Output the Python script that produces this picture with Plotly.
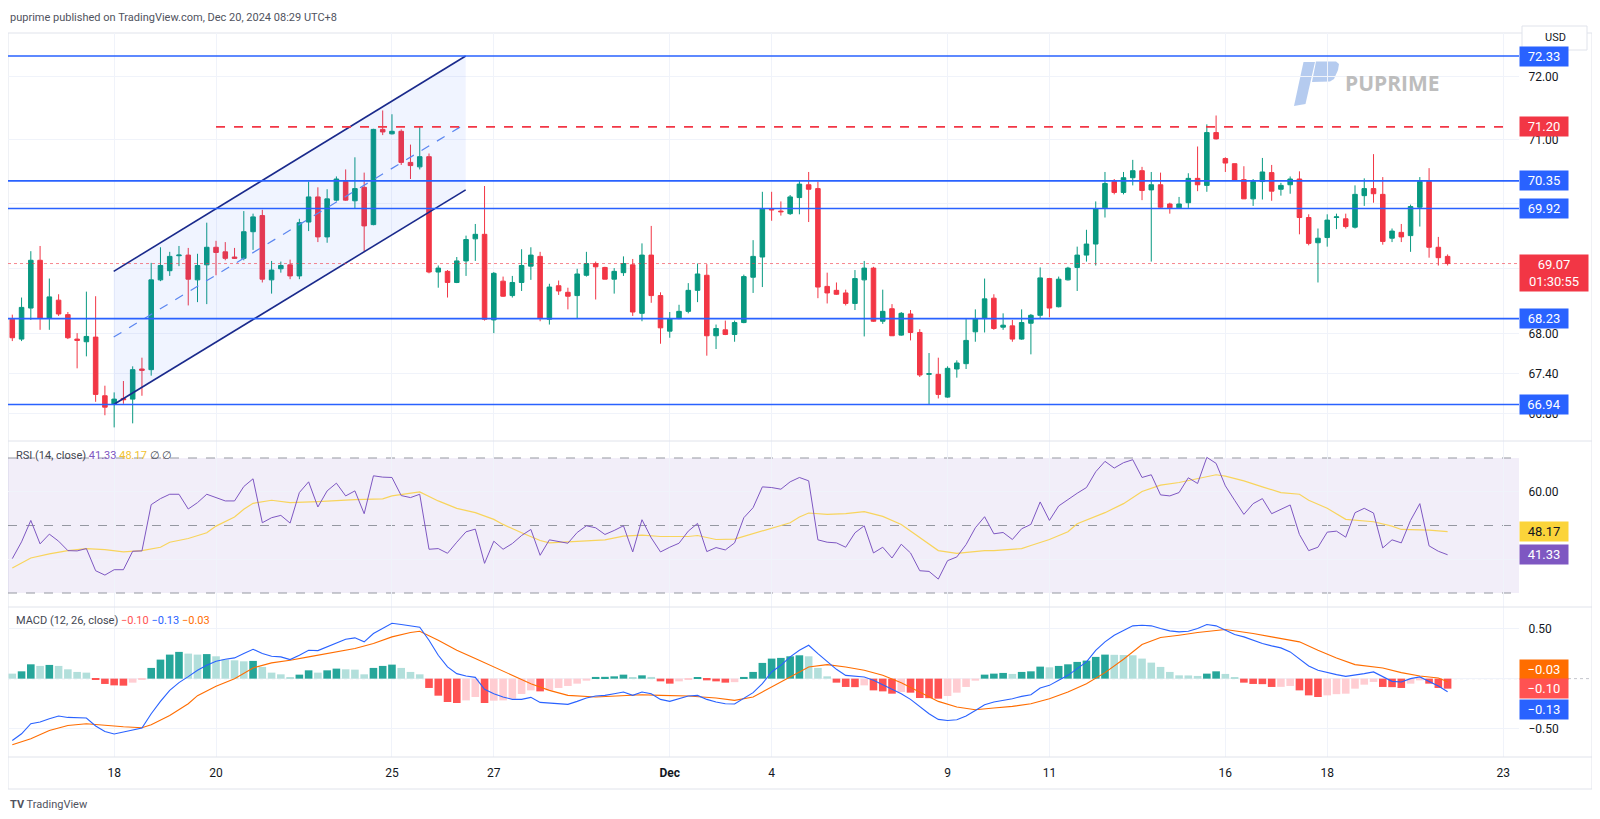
import numpy as np
import plotly.graph_objects as go

# ---------------- DATA ----------------
open_ = [68.22,67.92,68.39,69.12,68.24,68.51,68.29,67.92,67.88,67.95,67.07,66.94,67.03,67.02,67.47,67.46,68.82,68.96,69.19,69.20,
         68.82,69.05,69.32,69.25,69.17,69.15,69.56,69.81,68.82,68.99,69.05,68.88,69.71,70.10,69.48,70.05,70.34,70.04,70.25,69.67,
         71.16,71.09,71.13,70.64,70.57,70.73,68.94,68.95,68.78,69.11,69.45,69.52,68.21,68.80,68.58,68.78,69.03,69.18,68.22,68.73,
         68.63,68.58,68.89,69.07,69.01,68.83,68.93,69.05,68.31,69.20,68.58,68.04,68.23,68.34,68.66,68.89,67.97,68.06,67.99,68.17,
         68.86,69.17,69.91,69.88,69.84,70.09,70.29,70.23,68.72,68.66,68.62,68.46,68.82,69.00,68.19,68.38,67.98,68.30,68.02,67.39,
         67.39,67.05,67.47,67.55,68.03,68.23,68.54,68.10,68.12,67.92,68.16,68.28,68.84,68.41,68.82,69.01,69.20,69.37,69.93,70.34,
         70.17,70.40,70.51,70.21,70.29,69.99,69.93,70.01,70.39,70.28,71.11,70.70,70.62,70.37,70.07,70.34,70.48,70.22,70.29,70.38,
         69.78,69.39,69.47,69.78,69.76,69.63,70.12,70.23,70.14,69.46,69.55,69.50,69.94,70.34,69.32,69.18]
high = [68.29,68.55,69.26,69.34,68.84,68.60,68.33,68.01,68.64,68.57,67.22,67.12,67.29,67.51,67.64,69.08,69.32,69.25,69.34,69.31,
        69.22,69.70,69.42,69.40,69.31,69.88,69.84,69.90,69.11,69.10,69.13,69.76,70.34,70.25,70.22,70.42,70.53,70.72,70.48,71.17,
        71.46,71.40,71.16,70.92,71.20,70.78,69.04,68.97,69.17,69.50,69.68,70.27,68.94,68.87,68.88,69.29,69.32,69.25,68.76,68.81,
        68.70,68.99,69.25,69.10,69.02,69.00,69.18,69.14,69.38,69.65,68.63,68.33,68.44,68.77,69.07,69.06,68.14,68.20,68.20,68.90,
        69.43,70.18,70.18,70.03,70.13,70.35,70.49,70.34,68.93,68.78,68.67,68.97,69.11,69.02,68.67,68.45,68.33,68.36,68.07,67.71,
        67.64,67.51,67.60,68.23,68.37,68.84,68.60,68.31,68.21,68.37,68.30,69.01,68.85,68.87,69.02,69.33,69.59,70.03,70.49,70.38,
        70.49,70.68,70.57,70.49,70.48,70.01,70.10,70.47,70.89,71.24,71.38,70.72,70.62,70.58,70.38,70.71,70.60,70.32,70.42,70.50,
        69.83,69.61,69.83,69.84,69.84,70.28,70.39,70.77,70.41,69.61,69.68,69.98,70.41,70.55,69.48,69.21]
low = [67.89,67.89,68.21,68.06,68.06,68.27,67.92,67.48,67.66,66.98,66.78,66.60,66.95,66.66,67.07,67.37,68.80,68.88,69.03,68.43,
       68.48,68.45,68.89,69.12,69.14,69.12,69.28,68.78,68.61,68.93,68.83,68.83,69.57,69.40,69.39,70.03,70.04,69.92,69.26,69.66,
       71.07,71.08,70.60,70.38,70.53,68.92,68.70,68.55,68.77,68.88,69.11,68.20,68.01,68.56,68.55,68.65,68.82,68.19,68.14,68.59,
       68.37,68.23,68.87,68.52,68.83,68.61,68.88,68.27,68.19,68.47,67.85,67.94,68.22,68.31,68.48,67.67,67.77,67.98,67.88,68.16,
       68.62,68.71,69.73,69.81,69.82,69.83,69.71,68.54,68.46,68.59,68.43,68.36,67.96,68.18,68.15,67.97,67.97,67.90,67.35,66.94,
       67.03,67.04,67.34,67.47,67.88,68.02,68.06,68.06,67.88,67.91,67.69,68.23,68.25,68.40,68.81,68.65,69.10,69.04,69.78,70.14,
       70.14,70.28,70.05,69.10,69.93,69.84,69.92,69.93,70.19,70.18,71.00,70.49,70.35,70.07,69.96,70.06,70.04,70.12,70.15,69.52,
       69.35,68.78,69.33,69.60,69.61,69.61,69.96,70.01,69.36,69.40,69.40,69.25,69.64,69.16,69.04,69.04]
close = [67.94,68.40,69.12,68.24,68.56,68.30,67.94,67.90,67.96,67.09,66.90,67.02,67.01,67.46,67.45,68.82,69.04,69.18,69.20,68.83,
         69.04,69.32,69.24,69.15,69.15,69.56,69.79,68.83,68.97,69.04,68.88,69.70,70.10,69.48,70.07,70.38,70.05,70.23,69.65,71.16,
         71.12,71.13,70.64,70.59,70.73,68.94,69.00,68.78,69.11,69.44,69.52,68.22,68.92,68.57,68.78,69.04,69.20,68.24,68.71,68.65,
         68.57,68.91,69.07,69.02,68.83,68.95,69.07,68.33,69.20,68.58,68.09,68.23,68.34,68.66,68.91,67.97,68.08,67.99,68.17,68.87,
         69.18,69.91,69.90,69.87,70.10,70.30,70.22,68.71,68.62,68.60,68.46,68.84,69.00,68.19,68.34,67.97,68.31,68.02,67.38,67.40,
         67.09,67.48,67.56,67.90,68.23,68.53,68.08,68.13,67.92,68.17,68.28,68.85,68.39,68.83,69.00,69.20,69.37,69.92,70.31,70.17,
         70.40,70.51,70.20,70.29,69.94,69.93,69.99,70.39,70.29,71.11,71.01,70.63,70.36,70.07,70.34,70.49,70.19,70.28,70.38,69.78,
         69.38,69.46,69.74,69.79,69.64,70.14,70.23,70.15,69.41,69.57,69.48,69.95,70.34,69.32,69.16,69.07]

rsi = [40.18,45.15,51.51,44.55,47.44,45.35,42.56,42.47,43.16,36.60,35.31,36.90,36.90,42.37,42.47,56.18,57.97,59.26,59.26,54.89,
       56.78,59.26,58.27,57.28,57.28,61.55,63.84,50.82,52.31,53.00,50.72,59.76,62.94,55.49,60.26,62.54,58.77,60.26,53.50,64.73,
       64.33,64.23,58.87,58.27,59.26,42.96,43.16,41.77,45.05,48.13,48.93,38.79,45.35,42.96,44.65,47.04,48.83,41.17,45.75,45.35,
       44.75,47.93,49.92,49.32,47.34,48.53,49.92,42.17,51.71,46.34,42.17,43.56,44.75,48.33,50.62,42.27,43.46,42.76,44.85,52.31,
       55.29,61.45,61.25,60.76,62.94,64.23,63.24,45.75,45.05,44.85,43.56,47.83,49.92,41.87,43.56,40.38,44.45,41.87,36.60,36.40,
       34.12,39.58,40.68,44.35,49.32,52.60,47.54,47.93,45.85,49.03,50.32,56.98,51.51,55.79,57.77,59.56,61.25,65.92,69.01,67.02,
       68.61,69.50,64.23,65.03,59.07,58.77,59.76,64.14,62.45,70.20,68.41,61.75,57.48,53.30,56.48,57.97,53.50,54.79,56.08,47.34,
       42.56,43.56,48.03,48.33,46.54,53.80,55.09,53.70,43.36,45.75,44.85,51.51,56.48,43.96,42.37,41.33]

rsi_ma_x = [0,2,4,6,8,10,12,14,16,17,19,21,22,24,25,26,28,30,33,35,37,40,41,44,46,48,50,52,53,55,57,58,61,64,66,68,70,73,74,76,
            78,80,82,84,85,86,88,90,92,94,96,97,100,102,105,106,109,110,112,114,115,118,120,122,124,126,128,130,131,133,135,137,139,
            140,142,144,147,149,150,153,155]
rsi_ma = [37.40,40.38,41.57,42.56,43.16,42.86,42.17,42.56,43.56,45.05,46.14,47.83,49.82,52.50,54.79,56.58,57.48,56.78,57.08,57.48,
          57.67,57.87,58.77,59.96,57.28,55.09,53.80,51.81,50.32,47.83,45.55,44.85,45.35,45.75,46.84,47.14,46.74,46.74,47.04,45.85,
          45.94,47.54,49.32,50.82,52.50,53.70,53.30,53.50,54.10,52.70,50.32,48.33,42.56,41.77,42.56,42.56,43.16,44.06,45.85,48.13,
          50.52,53.80,56.48,60.06,61.95,62.74,63.94,65.03,64.63,63.24,61.45,59.76,59.26,57.48,55.09,51.81,51.11,49.82,48.83,48.63,
          48.17]

macd = [-0.617,-0.55,-0.45,-0.433,-0.40,-0.373,-0.387,-0.393,-0.393,-0.473,-0.527,-0.553,-0.533,-0.507,-0.493,-0.35,-0.227,-0.117,
        -0.04,0.02,0.083,0.133,0.173,0.193,0.207,0.25,0.293,0.25,0.223,0.217,0.19,0.233,0.283,0.28,0.317,0.36,0.393,0.407,0.367,
        0.45,0.50,0.553,0.54,0.527,0.513,0.383,0.233,0.117,0.05,0.027,0.013,-0.107,-0.15,-0.183,-0.207,-0.207,-0.187,-0.237,-0.243,
        -0.25,-0.257,-0.227,-0.193,-0.173,-0.167,-0.15,-0.133,-0.167,-0.133,-0.15,-0.207,-0.227,-0.20,-0.173,-0.167,-0.207,-0.233,
        -0.25,-0.253,-0.20,-0.14,-0.05,0.067,0.133,0.217,0.283,
        0.333,0.25,0.167,0.093,0.033,0.023,0.017,-0.017,-0.06,-0.11,-0.15,-0.207,-0.283,-0.35,-0.407,-0.417,-0.41,-0.373,-0.317,
        -0.26,-0.233,-0.217,-0.20,-0.177,-0.16,-0.093,-0.067,-0.017,0.033,0.10,0.167,0.283,0.367,0.433,0.483,0.527,0.533,0.527,
        0.50,0.477,0.467,0.473,0.50,0.54,0.527,0.483,0.44,0.417,0.383,0.35,0.327,0.307,0.267,0.20,0.127,0.083,0.06,0.04,0.023,
        0.033,0.05,0.067,0.017,-0.027,-0.033,0.0,0.017,-0.027,-0.073,-0.13]

hist = [0.05,0.073,0.143,0.127,0.137,0.127,0.093,0.067,0.06,-0.01,-0.053,-0.067,-0.07,-0.04,-0.01,0.107,0.19,0.24,0.267,0.25,
        0.24,0.245,0.223,0.19,0.183,0.173,0.177,0.117,0.06,0.043,0.007,0.04,0.083,0.06,0.083,0.10,0.093,0.09,0.043,0.107,0.127,
        0.14,0.107,0.067,0.043,-0.093,-0.17,-0.233,-0.243,-0.217,-0.183,-0.243,-0.22,-0.217,-0.20,-0.153,-0.117,-0.127,-0.117,
        -0.093,-0.073,-0.05,-0.02,0.017,0.018,0.023,0.04,0.007,0.033,0.017,-0.027,-0.05,-0.027,-0.01,0.01,-0.017,-0.027,-0.04,
        -0.035,0.017,0.067,0.157,0.20,0.207,0.223,0.233,
        0.223,0.107,0.023,-0.04,-0.083,-0.085,-0.067,-0.117,-0.127,-0.15,-0.133,-0.14,-0.193,-0.195,-0.20,-0.173,-0.14,-0.083,
        -0.02,0.04,0.05,0.057,0.047,0.067,0.073,0.12,0.113,0.127,0.143,0.167,0.18,0.217,0.24,0.238,0.236,0.233,0.20,0.16,0.117,
        0.067,0.033,0.032,0.027,0.05,0.073,0.047,0.007,-0.04,-0.053,-0.055,-0.083,-0.082,-0.073,-0.117,-0.167,-0.183,-0.167,
        -0.155,-0.15,-0.10,-0.06,-0.033,-0.083,-0.085,-0.093,-0.05,-0.017,-0.05,-0.093,-0.10]

signal_x = [0,2,4,6,8,10,12,14,15,17,19,20,22,24,25,26,28,30,32,35,37,39,41,43,44,46,48,50,52,54,56,58,60,63,65,68,70,73,76,78,
            80,81,83,85,86,88,90,92,94,96,98,100,102,104,106,108,110,112,114,116,118,120,122,124,126,128,131,132,134,136,139,141,
            143,145,148,150,152,154,155]
signal = [-0.66,-0.60,-0.517,-0.467,-0.45,-0.467,-0.48,-0.49,-0.46,-0.367,-0.25,-0.17,-0.075,0.0,0.055,0.107,0.157,0.183,0.217,
          0.267,0.30,0.35,0.417,0.46,0.473,0.383,0.283,0.20,0.117,0.033,-0.05,-0.117,-0.167,-0.183,-0.173,-0.16,-0.167,-0.173,
          -0.193,-0.217,-0.183,-0.133,-0.04,0.06,0.117,0.14,0.117,0.083,0.033,-0.04,-0.133,-0.227,-0.283,-0.31,-0.293,-0.277,
          -0.25,-0.20,-0.133,-0.05,0.06,0.193,0.34,0.41,0.433,0.46,0.49,0.477,0.45,0.417,0.367,0.283,0.207,0.14,0.107,0.06,0.027,
          0.007,-0.03]

# drawing objects
levels_blue = [72.33, 70.35, 69.92, 68.23, 66.94]
level_red = 71.20
last_price = 69.07
chan_x = [10.95, 48.96]
chan_upper = [68.95, 72.33]
chan_lower = [66.94, 70.21]
chan_mid = [67.95, 71.25]

tick_idx = [11, 22, 41, 52, 71, 82, 101, 112, 131, 142, 161]
tick_text = ["18", "20", "25", "27", "<b>Dec</b>", "4", "9", "11", "16", "18", "23"]
price_ticks = [66.8, 67.4, 68.0, 69.0, 70.0, 71.0, 72.0]
price_tick_text = ["66.80", "67.40", "68.00", "", "", "71.00", "72.00"]   # 69/70 sit under the label boxes

# ---------------- LAYOUT HELPERS ----------------
# page coords (the page body has an 8px margin)
OFF = 8
FIG_W, FIG_H = 1600 - OFF, 819 - OFF
L_PX, R_PX, T_PX, B_PX = 8, 1519, 33, 757
FONT = "Trebuchet MS, Roboto, Arial, sans-serif"

def px(x):
    return (x - L_PX) / (R_PX - L_PX)

def py(y):
    return (B_PX - y) / (B_PX - T_PX)

n = min(len(open_), len(high), len(low), len(close))
idx = list(range(n))
X_LEFT = (L_PX - 12.3) / 9.26
X_RIGHT = (R_PX - 12.3) / 9.26

GREEN, RED = "#089981", "#F23645"
BLUE = "#2962FF"

fig = go.Figure()

# channel fill
fig.add_trace(go.Scatter(
    x=[chan_x[0], chan_x[1], chan_x[1], chan_x[0], chan_x[0]],
    y=[chan_upper[0], chan_upper[1], chan_lower[1], chan_lower[0], chan_upper[0]],
    fill="toself", fillcolor="rgba(41,98,255,0.07)", line=dict(width=0),
    mode="lines", hoverinfo="skip", xaxis="x", yaxis="y"))

# candles
fig.add_trace(go.Candlestick(
    x=idx, open=open_[:n], high=high[:n], low=low[:n], close=close[:n],
    increasing=dict(line=dict(color=GREEN, width=1), fillcolor=GREEN),
    decreasing=dict(line=dict(color=RED, width=1), fillcolor=RED),
    whiskerwidth=0, hoverinfo="skip", xaxis="x", yaxis="y"))

# channel lines
fig.add_trace(go.Scatter(x=chan_x, y=chan_upper, mode="lines",
                         line=dict(color="#1A2A8C", width=1.6), hoverinfo="skip"))
fig.add_trace(go.Scatter(x=chan_x, y=chan_lower, mode="lines",
                         line=dict(color="#1A2A8C", width=1.6), hoverinfo="skip"))
fig.add_trace(go.Scatter(x=chan_x, y=chan_mid, mode="lines",
                         line=dict(color="#5B86F0", width=1.2, dash="dash"), hoverinfo="skip"))

# horizontal levels
for lv in levels_blue:
    fig.add_trace(go.Scatter(x=[X_LEFT, X_RIGHT], y=[lv, lv], mode="lines",
                             line=dict(color=BLUE, width=1.6), hoverinfo="skip"))
fig.add_trace(go.Scatter(x=[22, (1510 - 12.3) / 9.26], y=[level_red, level_red], mode="lines",
                         line=dict(color=RED, width=1.6, dash="dash"), hoverinfo="skip"))
fig.add_trace(go.Scatter(x=[X_LEFT, X_RIGHT], y=[last_price, last_price], mode="lines",
                         line=dict(color="rgba(242,54,69,0.6)", width=1, dash="dot"), hoverinfo="skip"))

# RSI
fig.add_trace(go.Scatter(x=rsi_ma_x, y=rsi_ma, mode="lines", line=dict(color="#F8D45C", width=1.2),
                         xaxis="x", yaxis="y2", hoverinfo="skip"))
fig.add_trace(go.Scatter(x=idx[:len(rsi)], y=rsi, mode="lines", line=dict(color="#7E57C2", width=1),
                         xaxis="x", yaxis="y2", hoverinfo="skip"))

# MACD histogram colors from rising / falling rule
hcol = []
for i, h in enumerate(hist):
    prev = hist[i - 1] if i > 0 else h
    if h >= 0:
        hcol.append("#26A69A" if h > prev else "#B2DFDB")
    else:
        hcol.append("#FF5252" if h < prev else "#FFCDD2")
fig.add_trace(go.Bar(x=idx[:len(hist)], y=hist, marker=dict(color=hcol, line=dict(width=0)), width=0.82,
                     xaxis="x", yaxis="y3", hoverinfo="skip"))
fig.add_trace(go.Scatter(x=signal_x, y=signal, mode="lines", line=dict(color="#FF6D00", width=1.1),
                         xaxis="x", yaxis="y3", hoverinfo="skip"))
fig.add_trace(go.Scatter(x=idx[:len(macd)], y=macd, mode="lines", line=dict(color=BLUE, width=1.1),
                         xaxis="x", yaxis="y3", hoverinfo="skip"))

# ---------------- SHAPES ----------------
shapes = []
border = "#E0E3EB"
shapes.append(dict(type="rect", xref="paper", yref="paper", x0=px(8), x1=px(1592), y0=py(789), y1=py(33),
                   line=dict(color=border, width=1), fillcolor="rgba(0,0,0,0)", layer="below"))
for yy in (441, 607, 757):
    shapes.append(dict(type="line", xref="paper", yref="paper", x0=px(8), x1=px(1592), y0=py(yy), y1=py(yy),
                       line=dict(color=border, width=1)))
# RSI band
shapes.append(dict(type="rect", xref="paper", yref="y2", x0=0, x1=1, y0=30, y1=70,
                   fillcolor="rgba(126,87,194,0.10)", line=dict(width=0), layer="below"))
for lv in (70, 50, 30):
    shapes.append(dict(type="line", xref="paper", yref="y2", x0=0, x1=1, y0=lv, y1=lv,
                       line=dict(color="#9598A1", width=1, dash="dash"), layer="below"))
# MACD zero
shapes.append(dict(type="line", xref="paper", yref="y3", x0=0, x1=px(1592), y0=0, y1=0,
                   line=dict(color="#C3C5CC", width=1, dash="dot"), layer="below"))
# USD box
shapes.append(dict(type="rect", xref="paper", yref="paper", x0=px(1522), x1=px(1587), y0=py(50), y1=py(26),
                   line=dict(color=border, width=1), fillcolor="white"))
# PUPRIME logo
def path(pts):
    return "M " + " L ".join(f"{px(a):.5f},{py(b):.5f}" for a, b in pts) + " Z"
shapes.append(dict(type="path", xref="paper", yref="paper", layer="below",
                   path=path([(1294, 106), (1305.5, 104), (1315, 62), (1303.5, 62)]),
                   fillcolor="rgba(120,160,225,0.55)", line=dict(width=0)))
shapes.append(dict(type="path", xref="paper", yref="paper", layer="below",
                   path=path([(1316, 61.5), (1336, 61.5), (1339, 64), (1338, 70), (1334, 79), (1330, 81.5), (1312, 82)]),
                   fillcolor="rgba(120,160,225,0.55)", line=dict(width=0)))

# ---------------- ANNOTATIONS ----------------
ann = []
def box(text, yv, yref, bg, fc="white", yshift=0, w=44, h=15, size=13):
    ann.append(dict(x=1, xref="paper", xanchor="left", y=yv, yref=yref, yanchor="middle", yshift=yshift,
                    text=text, showarrow=False, bgcolor=bg, width=w, height=h, borderpad=2, align="center",
                    font=dict(color=fc, size=size, family=FONT)))

for lv in levels_blue:
    box(f"{lv:.2f}", np.log10(lv), "y", BLUE)
box(f"{level_red:.2f}", np.log10(level_red), "y", RED)
box(f"{last_price:.2f}<br>01:30:55", np.log10(last_price), "y", RED, yshift=-9, w=64, h=32)
box("48.17", 48.17, "y2", "#FBD43A", fc="#131722")
box("41.33", 41.33, "y2", "#7E57C2")
box("−0.03", -0.03, "y3", "#FF6D00", yshift=12.5)
box("−0.10", -0.10, "y3", "#FF5252")
box("−0.13", -0.13, "y3", BLUE, yshift=-17.5)

ann.append(dict(x=px(8), y=py(9), xref="paper", yref="paper", xanchor="left", yanchor="top", showarrow=False,
                text="puprime published on TradingView.com, Dec 20, 2024 08:29 UTC+8",
                font=dict(size=11, color="#50535E", family=FONT)))
ann.append(dict(x=px(1555), y=py(38), xref="paper", yref="paper", xanchor="center", yanchor="middle", showarrow=False,
                text="USD", font=dict(size=11, color="#131722", family=FONT)))
ann.append(dict(x=px(1343), y=py(83), xref="paper", yref="paper", xanchor="left", yanchor="middle", showarrow=False,
                text="<b>PUPRIME</b>", font=dict(size=21, color="#BDBDBD", family="Open Sans, Arial, sans-serif")))
ann.append(dict(x=px(14), y=py(455), xref="paper", yref="paper", xanchor="left", yanchor="middle", showarrow=False,
                text='RSI (14, close) <span style="color:#7E57C2">41.33</span> '
                     '<span style="color:#F2C230">48.17</span> ∅ ∅',
                font=dict(size=11, color="#434651", family=FONT)))
ann.append(dict(x=px(14), y=py(620), xref="paper", yref="paper", xanchor="left", yanchor="middle", showarrow=False,
                text='MACD (12, 26, close) <span style="color:#FF5252">−0.10</span> '
                     '<span style="color:#2962FF">−0.13</span> <span style="color:#FF6D00">−0.03</span>',
                font=dict(size=11, color="#434651", family=FONT)))
ann.append(dict(x=px(8), y=py(804), xref="paper", yref="paper", xanchor="left", yanchor="middle", showarrow=False,
                text="<b>TV</b> TradingView", font=dict(size=11, color="#50535E", family=FONT)))

# ---------------- AXES ----------------
tick_font = dict(size=12, color="#131722", family=FONT)
grid = "#F0F3FA"
fig.update_layout(
    width=FIG_W, height=FIG_H,
    margin=dict(l=L_PX - OFF, r=FIG_W - (R_PX - OFF), t=T_PX - OFF, b=FIG_H - (B_PX - OFF), autoexpand=False),
    paper_bgcolor="white", plot_bgcolor="white",
    showlegend=False, hovermode=False,
    xaxis=dict(domain=[0, 1], anchor="y3", range=[X_LEFT, X_RIGHT], tickvals=tick_idx, ticktext=tick_text,
               showgrid=True, gridcolor=grid, zeroline=False, showline=False,
               ticks="outside", ticklen=5, tickcolor="rgba(0,0,0,0)", tickfont=tick_font,
               rangeslider=dict(visible=False), fixedrange=True),
    yaxis=dict(domain=[py(441), 1], anchor="x", type="log",
               range=[np.log10(66.399), np.log10(72.701)], side="right",
               tickvals=price_ticks, ticktext=price_tick_text,
               showgrid=True, gridcolor=grid, zeroline=False, showline=False,
               ticks="outside", ticklen=6, tickcolor="rgba(0,0,0,0)", tickfont=tick_font, fixedrange=True),
    yaxis2=dict(domain=[py(607), py(441)], anchor="x", range=[25.85, 75.04], side="right",
                tickvals=[40, 60], ticktext=["", "60.00"],
                showgrid=True, gridcolor=grid, zeroline=False, showline=False,
                ticks="outside", ticklen=6, tickcolor="rgba(0,0,0,0)", tickfont=tick_font, fixedrange=True),
    yaxis3=dict(domain=[0, py(607)], anchor="x", range=[-0.782, 0.715], side="right",
                tickvals=[-0.5, 0, 0.5], ticktext=["−0.50", "", "0.50"],
                showgrid=True, gridcolor=grid, zeroline=False, showline=False,
                ticks="outside", ticklen=6, tickcolor="rgba(0,0,0,0)", tickfont=tick_font, fixedrange=True),
    shapes=shapes, annotations=ann,
)

fig.write_html("out.html")
